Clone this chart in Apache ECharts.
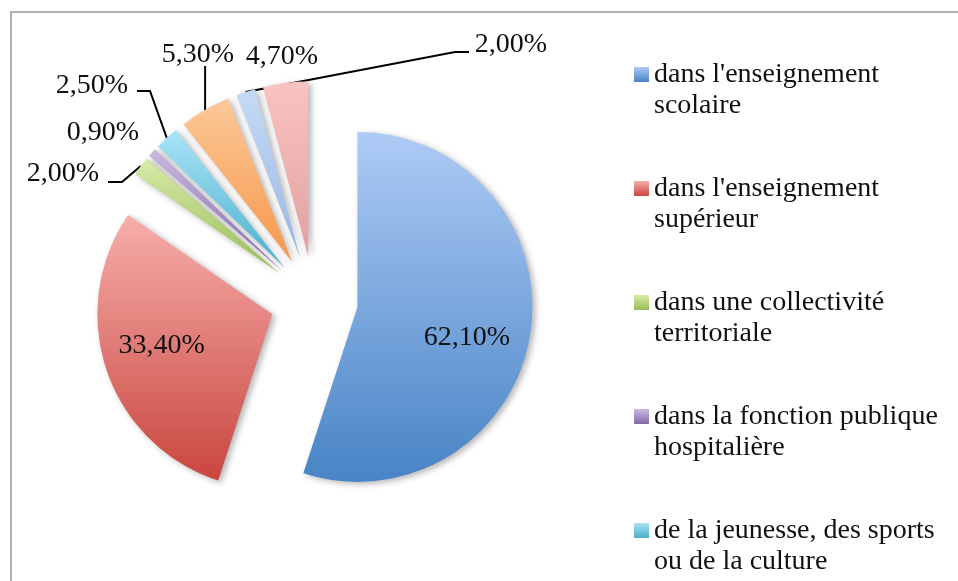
<!DOCTYPE html>
<html>
<head>
<meta charset="utf-8">
<script src="https://cdn.jsdelivr.net/npm/echarts@6/dist/echarts.min.js"></script>
<style>
  html, body { margin: 0; padding: 0; background: #fff; }
  #chart { width: 958px; height: 581px; }
</style>
</head>
<body>
<div id="chart"></div>
<script>
// slices, clockwise from 12 o'clock
const categories = [
  "dans l'enseignement\nscolaire",
  "dans l'enseignement\nsupérieur",
  "dans une collectivité\nterritoriale",
  "dans la fonction publique\nhospitalière",
  "de la jeunesse, des sports\nou de la culture",
  "série 6",
  "série 7",
  "série 8"
]
const values = [62.1, 33.4, 2.0, 0.9, 2.5, 5.3, 2.0, 4.7]
const legendNames = categories.slice(0, 5)

const colorTop = ['#aecbf5', '#f7aeaa', '#d8eaa9', '#c9badf', '#a8e4f7', '#fcc898', '#c6daf6', '#f9c3c2']
const colorBottom = ['#4884c6', '#c9463f', '#99bd56', '#8467ab', '#4aafcd', '#f7974a', '#98b6e0', '#e2a0a0']

const font = "'Liberation Serif', 'DejaVu Serif', serif"
const explode = 44

// centre of each outside label
const labelCenters = {
  2: [63, 174],
  3: [103, 133],
  4: [92, 86],
  5: [198, 55],
  6: [511, 45],
  7: [282, 57]
}
// leader line bend / end, relative to the label centre
const leaderBends = {
  2: [[59, 8], [45, 8]],
  4: [[58, 5], [45, 5]],
  5: [null, [0, 11]],
  6: [[-56, 7], [-42, 7]]
}
const insideShift = {0: [20, 17], 1: [-25, 2]}

const total = values.reduce((s, v) => s + v, 0)
function sliceOffset(i) {
  let cum = 0
  for (let k = 0; k < i; k++) cum += values[k]
  const mid = (cum + values[i] / 2) / total * Math.PI * 2
  return [explode * Math.sin(mid), -explode * Math.cos(mid)]
}

const chart = echarts.init(document.getElementById('chart'))

const data = values.map((v, i) => ({
  name: categories[i],
  value: v,
  selected: true,
  itemStyle: {
    color: new echarts.graphic.LinearGradient(0, 0, 0, 1, [
      {offset: 0, color: colorTop[i]},
      {offset: 1, color: colorBottom[i]}
    ])
  },
  label: {position: i < 2 ? 'inside' : 'outside'},
  labelLine: {show: !!leaderBends[i]}
}))

const option = {
  animation: false,
  backgroundColor: '#fff',
  graphic: [{
    type: 'rect',
    shape: {x: 11, y: 12, width: 990, height: 620},
    style: {fill: 'none', stroke: '#999', lineWidth: 1.5},
    silent: true
  }],
  legend: {
    orient: 'vertical',
    left: 629,
    top: 23,
    height: 900,
    data: legendNames,
    selectedMode: false,
    icon: 'rect',
    itemWidth: 15,
    itemHeight: 15,
    itemGap: 21,
    formatter: name => '\n' + name,
    textStyle: {
      fontFamily: font,
      fontSize: 28,
      lineHeight: 31,
      color: '#111'
    }
  },
  series: [{
    type: 'pie',
    center: [314, 300],
    radius: 175,
    startAngle: 90,
    clockwise: true,
    selectedMode: 'multiple',
    selectedOffset: explode,
    avoidLabelOverlap: false,
    emphasis: {disabled: true},
    itemStyle: {
      shadowBlur: 6,
      shadowOffsetX: 3,
      shadowOffsetY: 2,
      shadowColor: 'rgba(0,0,0,0.3)'
    },
    label: {
      fontFamily: font,
      fontSize: 28,
      color: '#111',
      formatter: p => p.value.toFixed(2).replace('.', ',') + '%'
    },
    labelLine: {
      length: 10,
      length2: 10,
      lineStyle: {color: '#000', width: 2}
    },
    labelLayout: function (params) {
      const i = params.dataIndex
      if (insideShift[i]) {
        return {dx: insideShift[i][0], dy: insideShift[i][1]}
      }
      const c = labelCenters[i]
      if (!c) return {}
      // label and guide line are local to the exploded slice
      const o = sliceOffset(i)
      const r = params.labelRect
      const out = {
        dx: c[0] - o[0] - (r.x + r.width / 2),
        dy: c[1] - o[1] - (r.y + r.height / 2)
      }
      const b = leaderBends[i]
      if (b && params.labelLinePoints) {
        const p0 = params.labelLinePoints[0]
        const end = [c[0] + b[1][0] - o[0], c[1] + b[1][1] - o[1]]
        if (b[0] === null) end[0] = p0[0]
        const bend = b[0] ? [c[0] + b[0][0] - o[0], c[1] + b[0][1] - o[1]] : end
        out.labelLinePoints = [p0, bend, end]
      }
      return out
    },
    data: data
  }]
}

chart.setOption(option)
</script>
</body>
</html>
